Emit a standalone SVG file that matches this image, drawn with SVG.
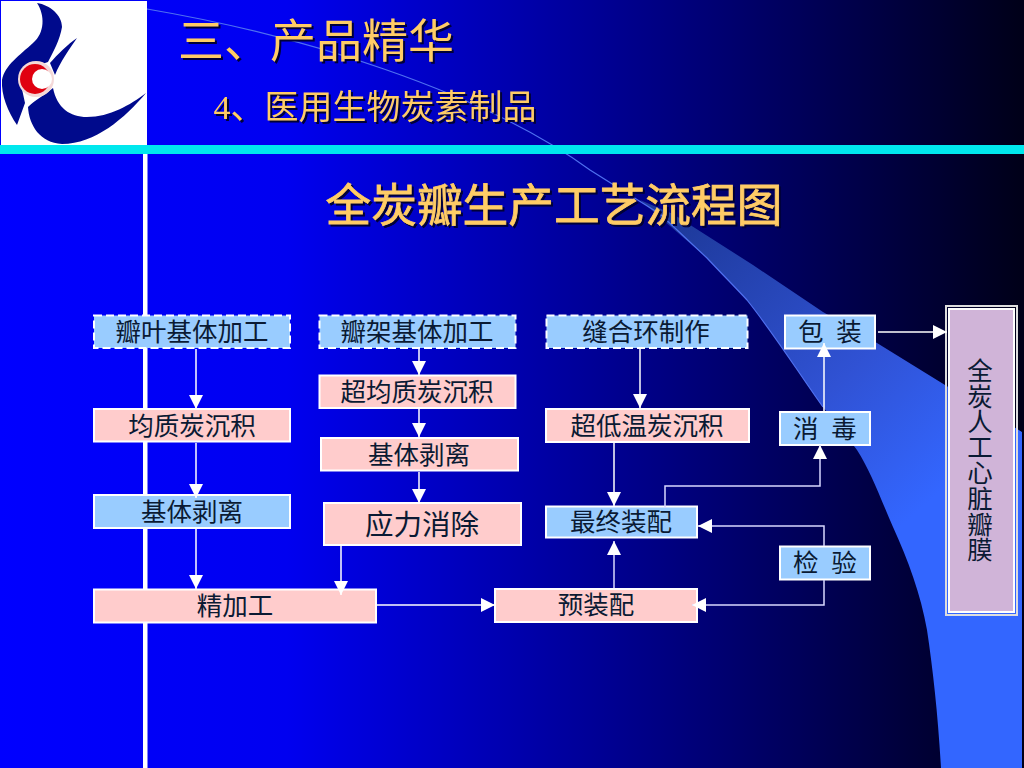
<svg xmlns="http://www.w3.org/2000/svg" width="1024" height="768" viewBox="0 0 1024 768">
<defs>
<linearGradient id="bg" x1="0" y1="0" x2="1" y2="0"><stop offset="0" stop-color="#0000ff"/><stop offset="0.28" stop-color="#0000f0"/><stop offset="1" stop-color="#000018"/></linearGradient>
<linearGradient id="sw" x1="680" y1="225" x2="930" y2="500" gradientUnits="userSpaceOnUse"><stop offset="0" stop-color="#1e3a9c"/><stop offset="0.6" stop-color="#3052d4"/><stop offset="1" stop-color="#3366ff"/></linearGradient>
<marker id="ah" markerUnits="userSpaceOnUse" markerWidth="14" markerHeight="14" refX="14" refY="7" orient="auto"><path d="M0 0L14 7L0 14Z" fill="#fff"/></marker>
</defs>
<style>
text{font-family:"Liberation Serif","Noto Sans CJK SC",serif;text-anchor:middle;white-space:pre}
.b{stroke:#fff;stroke-width:2}
.blue{fill:#99ccff}.pink{fill:#ffcccc}
.dash{stroke-dasharray:8 4}
.t{font-size:25.500px;fill:#0a1a33}
.v{writing-mode:vertical-rl;text-orientation:upright;letter-spacing:0.100px}
.c{fill:none;stroke:#fff;stroke-width:1.500;marker-end:url(#ah)}
.d{stroke:#d8d8ff}
.head{fill:#ffcc66;filter:drop-shadow(2px 2px 0 #000038)}
</style>
<rect width="1024" height="768" fill="url(#bg)"/>
<path d="M640 200L673 214L753 265L823 312L877 343L945 385L1022 432V768H941C938 715 933 670 927 630C921 595 908 560 893 527C880 497 870 470 857 450C846 435 835 422 823 407C800 375 775 335 747 300C735 287 720 272 707 258L640 200Z" fill="url(#sw)"/>
<path d="M147 9C300 35 480 90 590 170L660 214L707 258C720 272 735 287 747 300C775 335 800 375 823 407" fill="none" stroke="#4f70f0" stroke-width="1.200"/>
<g id="frame">
<rect x="143" y="154" width="4.500" height="614" fill="#fff"/>
<rect x="0" y="145" width="1024" height="9" fill="#00e8ee"/>
</g>
<g id="logo">
<rect x="1" y="1" width="146" height="144" fill="#fff"/>
<path d="M37 3C50 5 62 15 62 27C60 40 53 52 48 62L30 68L20 80L25 103L17 125C8 112 1 95 2 80C5 65 20 55 33 43C45 33 45 15 37 3Z" fill="#000a8c"/>
<path d="M77 38C68 44 57 55 50 63L55 75C60 62 70 48 77 38Z" fill="#000a8c"/>
<path d="M146 93C130 105 110 117 87 117C70 117 57 108 53 88C45 95 35 100 28 107C29 125 40 143 62 144C95 144 125 118 146 93Z" fill="#000a8c"/>
<circle cx="36" cy="79" r="18" fill="#f4d8d8"/>
<circle cx="35" cy="79" r="15" fill="#e00010"/>
<circle cx="42" cy="79" r="10" fill="#fff"/>
</g>
<g id="titles">
<text class="head" x="316" y="57" font-size="46">三、产品精华</text>
<text class="head" x="375" y="119" font-size="34">4、医用生物炭素制品</text>
<text class="head" x="554" y="222" font-size="45.700" stroke="#ffcc66" stroke-width="0.800">全炭瓣生产工艺流程图</text>
</g>
<g id="n1"><rect class="b blue dash" x="94" y="315.500" width="196" height="32.500"/><text class="t" x="192" y="341">瓣叶基体加工</text></g>
<g id="n2"><rect class="b pink" x="94" y="409" width="196" height="32.500"/><text class="t" x="192" y="435">均质炭沉积</text></g>
<g id="n3"><rect class="b blue" x="94" y="495" width="196" height="33"/><text class="t" x="192" y="521">基体剥离</text></g>
<g id="n4"><rect class="b pink" x="94" y="589.500" width="282" height="33"/><text class="t" x="235" y="615">精加工</text></g>
<g id="n5"><rect class="b blue dash" x="319.500" y="315.500" width="196" height="32.500"/><text class="t" x="417" y="341">瓣架基体加工</text></g>
<g id="n6"><rect class="b pink" x="319.500" y="375.500" width="196" height="32.500"/><text class="t" x="417" y="401">超均质炭沉积</text></g>
<g id="n7"><rect class="b pink" x="321" y="438" width="197" height="32.500"/><text class="t" x="419" y="464">基体剥离</text></g>
<g id="n8"><rect class="b pink" x="324" y="503" width="197" height="42"/><text class="t" x="422" y="535" style="font-size:28.500px">应力消除</text></g>
<g id="n9"><rect class="b blue dash" x="546.500" y="315.500" width="201" height="32.500"/><text class="t" x="646" y="341">缝合环制作</text></g>
<g id="n10"><rect class="b pink" x="546" y="409" width="203" height="33"/><text class="t" x="647" y="435">超低温炭沉积</text></g>
<g id="n11"><rect class="b blue" x="546" y="506.500" width="151" height="31"/><text class="t" x="621" y="531">最终装配</text></g>
<g id="n12"><rect class="b pink" x="495" y="589" width="202" height="33"/><text class="t" x="596" y="614">预装配</text></g>
<g id="n13"><rect class="b blue" x="785" y="315.500" width="90" height="33"/><text class="t" x="830" y="341">包  装</text></g>
<g id="n14"><rect class="b blue" x="780" y="412" width="90" height="33"/><text class="t" x="825" y="438">消  毒</text></g>
<g id="n15"><rect class="b blue" x="780" y="546.500" width="90" height="33"/><text class="t" x="825" y="572">检  验</text></g>
<g id="n16"><rect x="946" y="306" width="71" height="309" fill="none" stroke="#ddd" stroke-width="2"/><rect class="b" x="949" y="309" width="65" height="303" fill="#d0b4d8"/>
<text class="t v" x="977" y="460">全炭人工心脏瓣膜</text></g>
<g id="connectors">
<path class="c" d="M196 349V409"/>
<path class="c" d="M196 443V498"/>
<path class="c" d="M196 529V589"/>
<path class="c" d="M341 546V595"/>
<path class="c" d="M377 605H495"/>
<path class="c" d="M419 349V375"/>
<path class="c" d="M419 409V437"/>
<path class="c" d="M419 472V503"/>
<path class="c" d="M640 349V408"/>
<path class="c" d="M614 443V506"/>
<path class="c d" d="M614 588V541"/>
<path class="c d" d="M665 508V486H820V445"/>
<path class="c" d="M824 411V343"/>
<path class="c" d="M878 332H947"/>
<path class="c d" d="M824 546V526H698"/>
<path class="c d" d="M824 580V605H692"/>
</g>
</svg>
